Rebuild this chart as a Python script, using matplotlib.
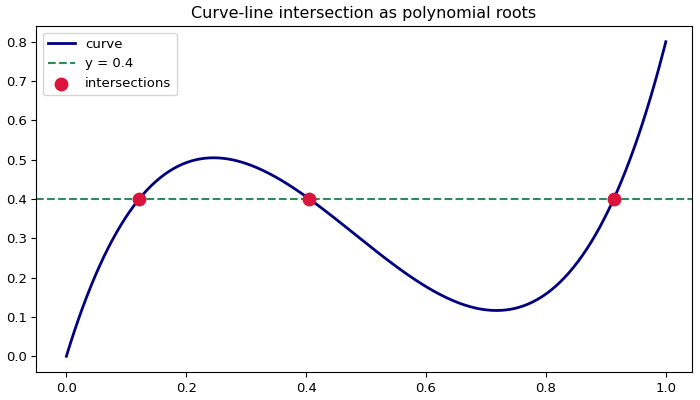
import numpy as np
import matplotlib
matplotlib.use("Agg")
import matplotlib.pyplot as plt

# cubic Bezier control points (x, y) and the horizontal line level
ctrl_x = [0.0, 0.3, 0.7, 1.0]
ctrl_y = [0.0, 1.5, -1.0, 0.8]
line_y = 0.4


def bezier(p, t):
    p0, p1, p2, p3 = p
    return ((1 - t) ** 3 * p0 + 3 * (1 - t) ** 2 * t * p1
            + 3 * (1 - t) * t ** 2 * p2 + t ** 3 * p3)


def power_coeffs(p):
    # Bezier -> polynomial in t, highest power first (for np.roots)
    p0, p1, p2, p3 = p
    return [-p0 + 3 * p1 - 3 * p2 + p3,
            3 * p0 - 6 * p1 + 3 * p2,
            -3 * p0 + 3 * p1,
            p0]


t = np.linspace(0, 1, 400)
cx = bezier(ctrl_x, t)
cy = bezier(ctrl_y, t)

coeffs = power_coeffs(ctrl_y)
coeffs[-1] -= line_y
roots = np.roots(coeffs)
roots = np.sort(roots[np.isreal(roots)].real)
roots = roots[(roots >= 0) & (roots <= 1)]
ix = bezier(ctrl_x, roots)
iy = bezier(ctrl_y, roots)

fig, ax = plt.subplots(figsize=(7, 4), dpi=100)
fig.subplots_adjust(left=0.052, right=0.988, top=0.935, bottom=0.07)
ax.plot(cx, cy, color="navy", lw=2, label="curve")
ax.axhline(line_y, color="seagreen", ls="--", lw=1.5, label=f"y = {line_y}")
ax.scatter(ix, iy, s=80, color="crimson", zorder=3, label="intersections")
ax.set_xlim(-0.05, 1.043)
ax.set_title("Curve-line intersection as polynomial roots", fontsize=11.5)
ax.tick_params(labelsize=9.5)
ax.legend(loc="upper left", fontsize=9.5)
fig.savefig("out.png")
